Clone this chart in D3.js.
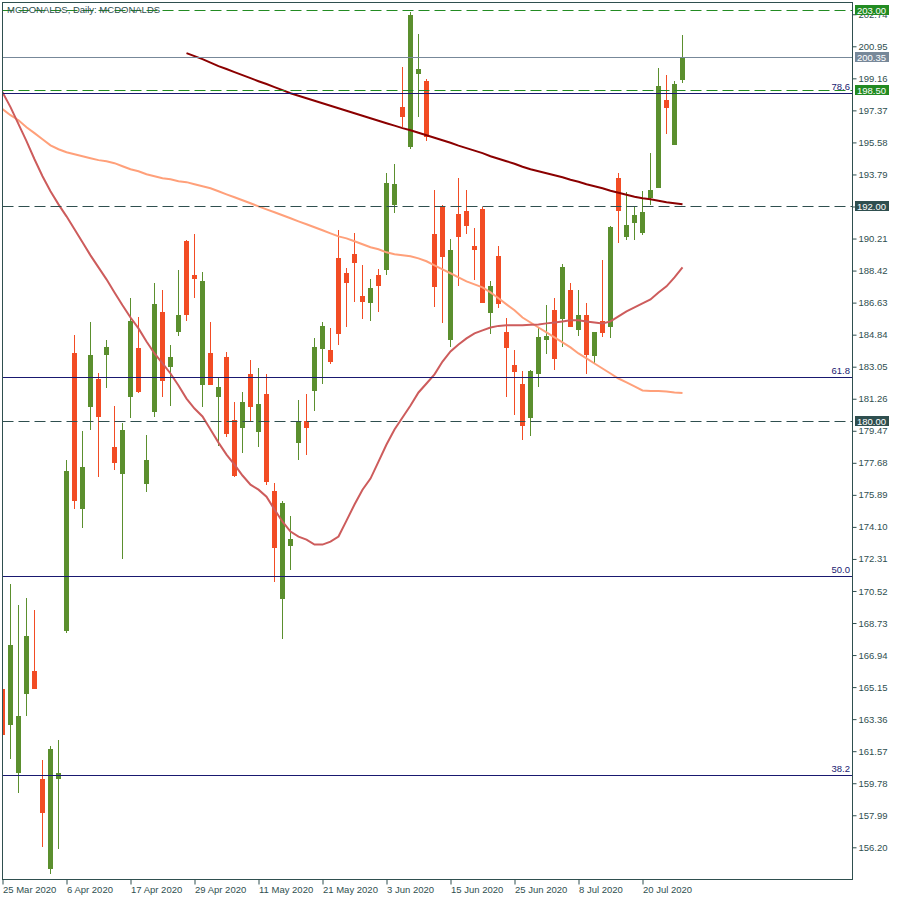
<!DOCTYPE html>
<html><head><meta charset="utf-8">
<script src="https://cdn.jsdelivr.net/npm/d3@7"></script>
<style>
body{margin:0;background:#fff}
svg{display:block}
text{font-family:"Liberation Sans",Arial,sans-serif;}
</style>
</head><body>
<svg id="chart" width="900" height="900"></svg>
<script>
// ---------- DATA ----------
const dates = [
"2020-03-25","2020-03-26","2020-03-27","2020-03-30","2020-03-31","2020-04-01","2020-04-02","2020-04-03",
"2020-04-06","2020-04-07","2020-04-08","2020-04-09","2020-04-13","2020-04-14","2020-04-15","2020-04-16","2020-04-17",
"2020-04-20","2020-04-21","2020-04-22","2020-04-23","2020-04-24","2020-04-27","2020-04-28","2020-04-29","2020-04-30",
"2020-05-01","2020-05-04","2020-05-05","2020-05-06","2020-05-07","2020-05-08","2020-05-11","2020-05-12","2020-05-13",
"2020-05-14","2020-05-15","2020-05-18","2020-05-19","2020-05-20","2020-05-21","2020-05-22","2020-05-26","2020-05-27",
"2020-05-28","2020-05-29","2020-06-01","2020-06-02","2020-06-03","2020-06-04","2020-06-05","2020-06-08","2020-06-09",
"2020-06-10","2020-06-11","2020-06-12","2020-06-15","2020-06-16","2020-06-17","2020-06-18","2020-06-19","2020-06-22",
"2020-06-23","2020-06-24","2020-06-25","2020-06-26","2020-06-29","2020-06-30","2020-07-01","2020-07-02","2020-07-06",
"2020-07-07","2020-07-08","2020-07-09","2020-07-10","2020-07-13","2020-07-14","2020-07-15","2020-07-16","2020-07-17",
"2020-07-20","2020-07-21","2020-07-22","2020-07-23","2020-07-24","2020-07-27"];

const open = [
165.05,163.04,160.37,164.79,166.06,160.02,155.00,160.04,168.26,183.79,
175.12,180.79,182.39,183.70,178.59,177.04,181.35,184.07,176.48,180.51,
186.08,183.02,184.98,190.05,188.15,182.02,183.79,181.35,183.57,180.10,
179.61,182.62,179.39,181.55,176.13,170.05,173.01,178.77,180.04,181.68,
184.03,183.96,189.10,188.27,189.33,186.98,186.60,188.15,188.45,192.07,
197.55,195.31,199.40,199.00,190.45,192.01,184.53,191.57,191.73,189.78,
191.84,186.04,189.22,184.97,183.12,182.06,180.17,182.62,184.52,186.20,
185.69,187.31,185.08,185.92,183.64,185.58,185.26,193.58,190.30,191.08,
190.52,192.48,193.04,197.94,195.44,199.08];
const high = [
165.56,170.93,169.75,170.14,169.47,161.08,161.87,162.20,177.86,184.80,
179.43,185.52,182.67,184.52,180.88,179.93,186.87,185.80,179.26,187.71,
187.31,184.29,188.43,190.11,190.45,188.32,185.52,182.50,183.85,181.05,
181.61,183.40,182.95,182.62,176.58,175.57,174.73,181.18,181.50,184.63,
185.52,185.19,190.67,188.54,190.50,188.71,187.93,188.49,193.86,194.36,
199.79,202.86,201.63,199.12,192.91,192.07,190.17,193.58,192.91,190.78,
191.96,187.82,189.78,185.75,184.01,182.80,182.86,185.24,186.49,186.87,
188.77,187.71,187.31,186.59,184.98,189.01,190.91,193.86,192.80,191.96,
192.85,194.98,199.73,199.34,199.00,201.59];
const low = [
160.97,161.14,159.25,163.56,165.02,156.23,154.72,156.12,168.20,175.12,
174.06,179.50,176.87,181.85,177.26,172.29,180.17,181.57,176.03,180.23,
181.35,180.84,184.76,185.60,186.87,180.79,182.02,178.61,179.11,176.87,
178.21,179.95,178.55,176.42,171.00,167.81,171.67,177.82,178.09,180.56,
182.07,183.19,184.26,185.26,186.66,185.71,185.60,186.10,188.17,191.64,
196.43,195.20,197.00,195.65,186.38,185.49,184.14,187.55,190.46,187.89,
186.60,184.87,186.32,181.35,180.34,178.98,179.17,181.91,183.77,182.86,
184.14,185.26,184.76,182.66,183.18,184.70,184.63,189.98,190.13,190.13,
190.41,192.11,193.04,196.06,195.44,198.91];
const close = [
162.48,167.52,163.54,168.02,165.02,158.14,161.70,160.36,177.25,175.53,
177.47,183.73,180.23,184.13,177.66,179.54,185.58,181.63,177.81,186.53,
182.24,183.57,185.92,185.93,187.93,187.82,182.02,181.94,179.28,176.93,
181.05,180.79,180.94,176.59,172.90,175.46,173.44,180.04,179.61,184.13,
185.30,183.30,184.87,187.72,188.84,186.66,187.43,187.55,193.30,193.24,
196.99,202.70,199.67,195.87,187.50,189.18,189.55,190.30,190.91,189.57,
186.60,187.54,186.55,184.09,182.78,179.72,182.80,184.70,184.76,183.46,
188.62,185.26,185.92,183.73,184.98,184.93,190.84,191.75,190.95,191.51,
191.68,192.91,198.72,197.51,198.84,200.35];

// moving averages
const maShort = [
198.39,197.55,196.60,195.65,194.64,193.69,192.85,192.12,191.45,190.73,
190.00,189.27,188.60,187.93,187.20,186.48,185.80,185.19,184.46,183.79,
183.23,182.67,182.00,181.27,180.71,180.27,179.54,178.81,178.14,177.58,
176.97,176.46,176.18,175.79,175.07,174.39,173.84,173.56,173.39,173.11,
173.11,173.28,173.56,174.45,175.35,176.18,176.80,177.75,178.70,179.54,
180.21,180.88,181.61,182.11,182.62,183.34,183.90,184.29,184.63,184.91,
185.08,185.24,185.33,185.36,185.36,185.36,185.39,185.41,185.47,185.52,
185.58,185.64,185.64,185.58,185.52,185.47,185.58,185.86,186.14,186.36,
186.59,186.81,187.20,187.54,188.04,188.60];
const maMid = [
197.44,197.10,196.82,196.43,196.10,195.76,195.42,195.20,195.03,194.92,
194.81,194.70,194.59,194.53,194.42,194.25,194.08,193.97,193.80,193.69,
193.58,193.52,193.41,193.36,193.24,193.13,193.02,192.85,192.68,192.52,
192.35,192.18,192.01,191.84,191.68,191.51,191.34,191.17,191.01,190.84,
190.67,190.50,190.33,190.22,190.06,189.89,189.72,189.61,189.44,189.33,
189.27,189.22,189.10,188.94,188.71,188.49,188.27,188.04,187.82,187.65,
187.48,187.20,186.87,186.53,186.20,185.80,185.52,185.24,184.97,184.69,
184.41,184.13,183.79,183.51,183.23,182.95,182.67,182.39,182.17,181.95,
181.72,181.69,181.69,181.67,181.61,181.58];
const maLong = [
null,null,null,null,null,null,null,null,null,null,
null,null,null,null,null,null,null,null,null,null,
null,null,null,
200.57,200.40,200.23,200.04,199.84,199.68,199.51,199.34,199.17,199.00,
198.84,198.67,198.50,198.33,198.19,198.05,197.91,197.77,197.63,197.49,
197.35,197.21,197.07,196.93,196.79,196.65,196.52,196.38,196.26,196.12,
195.98,195.84,195.70,195.56,195.40,195.26,195.12,194.98,194.81,194.67,
194.53,194.39,194.22,194.08,193.97,193.86,193.75,193.63,193.49,193.38,
193.24,193.13,193.02,192.88,192.77,192.66,192.54,192.46,192.40,192.32,
192.24,192.18,192.12];

// horizontal levels
const greenLevels = [203.00, 198.50];
const greyLevels = [192.00, 180.00];
const lastPrice = 200.35;
const fibValues = [160.23, 171.36, 182.49, 198.32];
const fibLabels = ["38.2", "50.0", "61.8", "78.6"];

// axis ticks
const yTicks = [156.20,157.99,159.78,161.57,163.36,165.15,166.94,168.73,170.52,172.31,174.10,175.89,
177.68,179.47,181.26,183.05,184.84,186.63,188.42,190.21,192.00,193.79,195.58,197.37,199.16,200.95,202.74];
const xTickDates = ["2020-03-25","2020-04-06","2020-04-17","2020-04-29","2020-05-11","2020-05-21",
"2020-06-03","2020-06-15","2020-06-25","2020-07-08","2020-07-20"];
const xTickLabels = ["25 Mar 2020","6 Apr 2020","17 Apr 2020","29 Apr 2020","11 May 2020","21 May 2020",
"3 Jun 2020","15 Jun 2020","25 Jun 2020","8 Jul 2020","20 Jul 2020"];
const title = "MCDONALDS, Daily:  MCDONALDS";

// ---------- DRAW ----------
const W = 900, H = 900;
const L = 2.5, R = 852.5, T = 2.5, B = 879.5;
const svg = d3.select("#chart");
const fg = "#2F4F4F";
const upColor = "#5B8F2E", downColor = "#F24C24";
const green = "#228B22";

const x = d3.scaleLinear().domain([0, dates.length - 1]).range([2.5, 2.5 + 8 * (dates.length - 1)]);
const y = d3.scaleLinear().domain([156.20, 203.00]).range([847.3, 9.6]);
const py = v => Math.round(y(v)) + 0.5;

svg.append("defs").append("clipPath").attr("id", "clip")
  .append("rect").attr("x", 3).attr("y", 3).attr("width", R - 3).attr("height", B - 3);

const plot = svg.append("g").attr("clip-path", "url(#clip)");

// candles
const idx = d3.range(dates.length);
const cg = plot.append("g");
cg.selectAll("rect.wick").data(idx).join("rect").attr("class", "wick")
  .attr("x", i => x(i) - 0.5)
  .attr("y", i => Math.round(y(high[i])))
  .attr("width", 1)
  .attr("height", i => Math.max(1, Math.round(y(low[i])) - Math.round(y(high[i]))))
  .attr("fill", i => close[i] >= open[i] ? upColor : downColor);
cg.selectAll("rect.body").data(idx).join("rect").attr("class", "body")
  .attr("x", i => x(i) - 2.5)
  .attr("y", i => Math.round(y(Math.max(open[i], close[i]))))
  .attr("width", 5)
  .attr("height", i => Math.max(1, Math.round(y(Math.min(open[i], close[i]))) - Math.round(y(Math.max(open[i], close[i])))))
  .attr("fill", i => close[i] >= open[i] ? upColor : downColor);

// moving averages
const line = d3.line().defined(d => d != null).x((d, i) => x(i)).y(d => y(d));
plot.append("path").datum(maMid).attr("d", line).attr("fill", "none").attr("stroke", "#FFA07A").attr("stroke-width", 2);
plot.append("path").datum(maShort).attr("d", line).attr("fill", "none").attr("stroke", "#CD5C5C").attr("stroke-width", 2);
plot.append("path").datum(maLong).attr("d", line).attr("fill", "none").attr("stroke", "#8B0000").attr("stroke-width", 2);

// fib lines
fibValues.forEach((v, k) => {
  plot.append("line").attr("x1", L).attr("x2", R).attr("y1", py(v)).attr("y2", py(v))
    .attr("stroke", "#191970").attr("stroke-width", 1);
  svg.append("text").attr("x", 850).attr("y", py(v) - 3.5).attr("text-anchor", "end")
    .attr("font-size", "9.5px").attr("fill", "#191970").text(fibLabels[k]);
});

// horizontal levels
plot.append("line").attr("x1", L).attr("x2", R).attr("y1", py(lastPrice)).attr("y2", py(lastPrice))
  .attr("stroke", "#778899").attr("stroke-width", 1);
greenLevels.forEach(v => plot.append("line").attr("x1", L).attr("x2", R).attr("y1", py(v)).attr("y2", py(v))
  .attr("stroke", green).attr("stroke-width", 1).attr("stroke-dasharray", "11,5"));
greyLevels.forEach(v => plot.append("line").attr("x1", L).attr("x2", R).attr("y1", py(v)).attr("y2", py(v))
  .attr("stroke", fg).attr("stroke-width", 1).attr("stroke-dasharray", "11,5"));

// frame
svg.append("rect").attr("x", L).attr("y", T).attr("width", R - L).attr("height", B - T)
  .attr("fill", "none").attr("stroke", fg).attr("stroke-width", 1);

// right axis
const ya = svg.append("g").attr("transform", `translate(${R},0)`)
  .call(d3.axisRight(y).tickValues(yTicks).tickFormat(d3.format(".2f")).tickSize(4).tickPadding(2));
ya.select(".domain").remove();
ya.selectAll(".tick line").attr("stroke", fg).attr("transform", "translate(0,0)");
ya.selectAll(".tick text").attr("fill", fg).attr("font-size", "9.5px")
  .attr("font-family", "Liberation Sans, Arial, sans-serif");

// bottom axis
const tickIdx = xTickDates.map(d => dates.indexOf(d));
const xa = svg.append("g").attr("transform", `translate(0,${B})`)
  .call(d3.axisBottom(x).tickValues(tickIdx).tickFormat((d, k) => xTickLabels[k]).tickSize(5).tickPadding(2));
xa.select(".domain").remove();
xa.selectAll(".tick line").attr("stroke", fg);
xa.selectAll(".tick text").attr("fill", fg).attr("font-size", "9.5px").attr("text-anchor", "start")
  .attr("x", 0).attr("font-family", "Liberation Sans, Arial, sans-serif");

// price label boxes
function tag(v, color) {
  const g = svg.append("g");
  g.append("rect").attr("x", 855).attr("y", Math.round(y(v)) - 5).attr("width", 34).attr("height", 10).attr("fill", color);
  g.append("text").attr("x", 857).attr("y", Math.round(y(v)) + 3.5).attr("font-size", "9.5px")
    .attr("fill", "#fff").text(v.toFixed(2));
}
tag(greenLevels[0], green);
tag(lastPrice, "#778899");
tag(greenLevels[1], green);
greyLevels.forEach(v => tag(v, fg));

// title
svg.append("text").attr("x", 7).attr("y", 13).attr("font-size", "9.5px").attr("fill", fg).text(title);
</script>
</body></html>
